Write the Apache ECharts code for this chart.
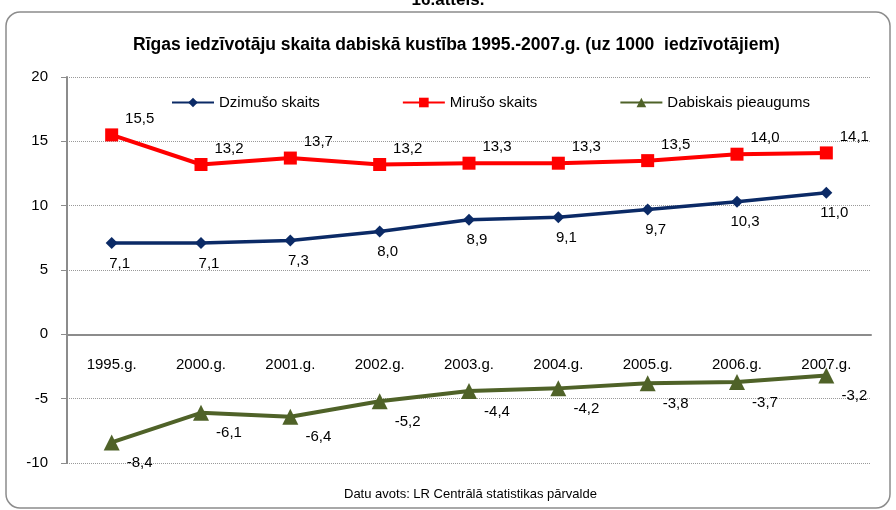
<!DOCTYPE html>
<html>
<head>
<meta charset="utf-8">
<script src="https://cdn.jsdelivr.net/npm/echarts@6/dist/echarts.min.js"></script>
<style>
  html, body { margin: 0; padding: 0; background: #fff; }
  #chart { width: 896px; height: 510px; }
</style>
</head>
<body>
<div id="chart"></div>
<script>
var years = ['1995.g.', '2000.g.', '2001.g.', '2002.g.', '2003.g.', '2004.g.', '2005.g.', '2006.g.', '2007.g.'];
var births = [7.1, 7.1, 7.3, 8.0, 8.9, 9.1, 9.7, 10.3, 11.0];
var deaths = [15.5, 13.2, 13.7, 13.2, 13.3, 13.3, 13.5, 14.0, 14.1];
var growth = [-8.4, -6.1, -6.4, -5.2, -4.4, -4.2, -3.8, -3.7, -3.2];

var font = '"Liberation Sans Narrow", "Arial Narrow", "Liberation Sans", Arial, sans-serif';

function fmt(p) {
  return p.value.toFixed(1).replace('.', ',');
}

var myChart = echarts.init(document.getElementById('chart'));
var option = {
  backgroundColor: '#fff',
  textStyle: { fontFamily: font },
  title: {
    text: 'Rīgas iedzīvotāju skaita dabiskā kustība 1995.-2007.g. (uz 1000  iedzīvotājiem)',
    left: 128,
    top: 31,
    textStyle: { fontFamily: font, fontSize: 17.5, fontWeight: 'bold', color: '#000' }
  },
  graphic: [
    {
      type: 'rect',
      shape: { x: 6, y: 12, width: 884, height: 496, r: 14 },
      style: { fill: 'none', stroke: '#8c8c8c', lineWidth: 1.5 },
      z: -1
    },
    {
      type: 'text',
      left: 'center',
      top: -8,
      style: { text: '16.attēls.', fontFamily: font, fontSize: 17, fontWeight: 'bold', fill: '#000' }
    },
    {
      type: 'text',
      left: 344,
      top: 488,
      style: { text: 'Datu avots: LR Centrālā statistikas pārvalde', fontFamily: font, fontSize: 13, fill: '#000' }
    }
  ],
  legend: {
    top: 90,
    left: 166,
    itemGap: 82,
    itemWidth: 42,
    itemHeight: 12,
    textStyle: { fontFamily: font, fontSize: 15, color: '#000' },
    data: ['Dzimušo skaits', 'Mirušo skaits', 'Dabiskais pieaugums']
  },
  grid: { left: 67, right: 25, top: 77, bottom: 47 },
  xAxis: {
    type: 'category',
    data: years,
    offset: -128.67,
    axisLine: { onZero: false, lineStyle: { color: '#8c8c8c', width: 2 } },
    axisTick: { inside: true, length: 5, lineStyle: { color: '#8c8c8c' } },
    axisLabel: { margin: 23, fontSize: 15, color: '#000', fontFamily: font }
  },
  yAxis: {
    type: 'value',
    min: -10,
    max: 20,
    interval: 5,
    axisLine: { show: true, lineStyle: { color: '#8c8c8c', width: 2 } },
    axisTick: { show: true, length: 6, lineStyle: { color: '#8c8c8c' } },
    axisLabel: { margin: 19, fontSize: 15, color: '#000', fontFamily: font },
    splitLine: { lineStyle: { color: '#999', type: 'dotted' } }
  },
  series: [
    {
      name: 'Dzimušo skaits',
      type: 'line',
      data: births,
      color: '#0b2a66',
      symbol: 'diamond',
      symbolSize: 12,
      lineStyle: { width: 3.5 },
      label: {
        show: true, position: 'bottom', distance: 6, offset: [8, 1],
        fontSize: 15, color: '#000', fontFamily: font, formatter: fmt
      }
    },
    {
      name: 'Mirušo skaits',
      type: 'line',
      data: deaths,
      color: '#ff0000',
      symbol: 'rect',
      symbolSize: 13,
      lineStyle: { width: 4 },
      label: {
        show: true, position: 'top', distance: 5, offset: [28, 3],
        fontSize: 15, color: '#000', fontFamily: font, formatter: fmt
      }
    },
    {
      name: 'Dabiskais pieaugums',
      type: 'line',
      data: growth,
      color: '#4f6228',
      symbol: 'triangle',
      symbolSize: 16,
      lineStyle: { width: 4 },
      label: {
        show: true, position: 'bottom', distance: 5, offset: [28, 0],
        fontSize: 15, color: '#000', fontFamily: font, formatter: fmt
      }
    }
  ]
};
option && myChart.setOption(option);
</script>
</body>
</html>
